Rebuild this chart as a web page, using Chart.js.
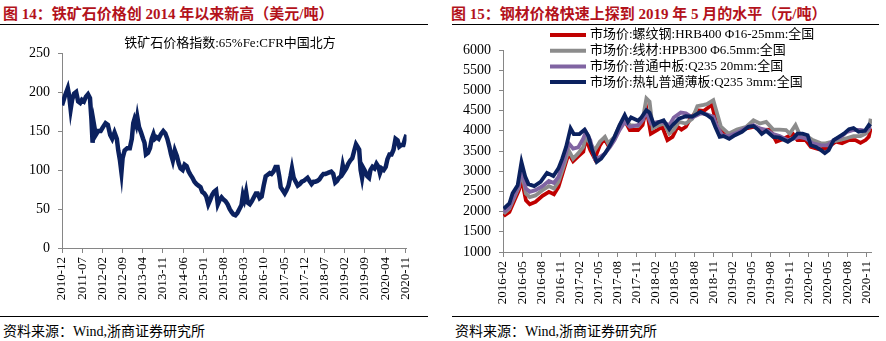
<!DOCTYPE html>
<html>
<head>
<meta charset="utf-8">
<script src="https://cdn.jsdelivr.net/npm/chart.js@4.4.1/dist/chart.umd.min.js"></script>
<style>
body { margin: 0; background: #fff; width: 886px; height: 341px; position: relative; overflow: hidden;
       font-family: 'Liberation Serif', 'Noto Sans CJK SC', serif; }
.title { position: absolute; top: 2px; color: #b3121b; font-weight: bold; font-size: 15px; white-space: nowrap; }
.rule { position: absolute; height: 0; border-top: 1.5px solid #000; }
.src { position: absolute; top: 320px; font-size: 14px; white-space: nowrap; }
canvas { position: absolute; }
</style>
</head>
<body>
<div class="title" style="left:3px">图&nbsp;14：铁矿石价格创 2014 年以来新高（美元/吨）</div>
<div class="title" style="left:451px">图&nbsp;15：钢材价格快速上探到 2019 年 5 月的水平（元/吨）</div>
<div class="rule" style="left:0;width:428px;top:24px"></div>
<div class="rule" style="left:452px;width:427px;top:24px"></div>
<canvas id="ore" width="425" height="284" style="left:0;top:26px"></canvas>
<canvas id="steel" width="443" height="284" style="left:443px;top:26px"></canvas>
<div class="rule" style="left:0;width:428px;top:316px"></div>
<div class="rule" style="left:452px;width:427px;top:316px"></div>
<div class="src" style="left:3px">资料来源：Wind,浙商证券研究所</div>
<div class="src" style="left:455px">资料来源：Wind,浙商证券研究所</div>
<script>
// iron ore index, months counted from 2010-12
var oreLabels = ['2010-12', '2011-07', '2012-02', '2012-09', '2013-04', '2013-11', '2014-06', '2015-01', '2015-08',
    '2016-03', '2016-10', '2017-05', '2017-12', '2018-07', '2019-02', '2019-09', '2020-04', '2020-11'];
var oreMonths = [0, 0.6, 1.1, 2.0, 2.5, 3.0, 3.5, 4.2, 4.9, 5.6, 6.3, 6.9, 7.6, 8.3, 9.0, 9.7, 10.2, 10.6, 11.1, 11.7,
    12.5, 13.4, 14.2, 15.1, 15.9, 16.7, 17.4, 18.2, 19.0, 19.5, 20.1, 20.6, 21.0, 21.7, 22.6, 23.5, 24.2, 24.7, 25.1, 25.7,
    26.1, 26.7, 27.4, 28.1, 28.6, 29.1, 29.8, 30.5, 31.1, 31.7, 32.2, 32.8, 33.5, 34.3, 35.1, 35.8, 36.5, 37.2, 37.8, 38.4,
    39.1, 39.8, 40.5, 41.1, 41.8, 42.5, 43.2, 43.9, 44.5, 45.2, 45.9, 46.6, 47.3, 48.0, 48.6, 49.3, 50.0, 50.7, 51.4, 52.0,
    52.7, 53.4, 54.0, 54.7, 55.3, 56.0, 56.7, 57.4, 58.1, 58.8, 59.4, 60.1, 60.8, 61.5, 62.2, 62.7, 63.2, 63.8, 64.4, 65.1,
    65.8, 66.5, 67.2, 67.8, 68.5, 69.2, 69.9, 70.6, 71.3, 72.0, 72.6, 73.3, 74.0, 74.7, 75.3, 75.8, 76.5, 77.2, 77.8, 78.5,
    79.2, 79.7, 80.3, 81.0, 81.7, 82.4, 83.1, 83.8, 84.4, 85.1, 85.8, 86.5, 87.2, 87.8, 88.5, 89.2, 89.9, 90.6, 91.3, 92.0,
    92.6, 93.3, 94.0, 94.7, 95.3, 96.0, 96.7, 97.3, 97.8, 98.5, 99.2, 99.9, 100.6, 101.3, 101.9, 102.4, 103.0, 103.5, 104.0, 104.5,
    105.1, 105.8, 106.4, 106.9, 107.6, 108.3, 109.0, 109.7, 110.2, 110.8, 111.5, 112.2, 112.8, 113.5, 114.2, 114.9, 115.6, 116.3, 116.9, 117.6,
    118.3, 118.9, 119.4];
var oreValues = [183, 190, 196, 205, 195, 178, 190, 198, 200, 188, 186, 190, 188, 194, 197, 192, 165, 135, 158, 145,
    150, 150, 155, 160, 158, 145, 140, 148, 140, 125, 112, 97, 115, 125, 128, 128, 140, 160, 165, 158,
    168, 155, 148, 140, 135, 120, 122, 128, 140, 146, 140, 142, 140, 146, 150, 147, 140, 130, 120, 112,
    125, 118, 108, 102, 100, 107, 105, 98, 94, 90, 85, 82, 80, 78, 72, 70, 66, 56, 62, 68,
    72, 74, 56, 62, 65, 62, 60, 56, 50, 46, 43, 42, 45, 50, 55, 68, 62, 72, 58, 56,
    60, 65, 70, 70, 64, 66, 80, 92, 94, 96, 95, 98, 104, 104, 92, 78, 74, 70, 74, 80,
    92, 102, 90, 85, 80, 82, 85, 86, 88, 90, 86, 82, 85, 85, 86, 88, 92, 95, 95, 96,
    97, 98, 95, 84, 86, 90, 92, 106, 98, 102, 108, 112, 115, 125, 133, 130, 126, 100, 90, 102,
    98, 92, 90, 100, 104, 102, 108, 104, 96, 102, 100, 104, 114, 120, 120, 126, 140, 138, 130, 132,
    132, 140, 145];

// steel prices, months counted from 2016-02
var steelLabels = ['2016-02', '2016-05', '2016-08', '2016-11', '2017-02', '2017-05', '2017-08', '2017-11', '2018-02', '2018-05',
    '2018-08', '2018-11', '2019-02', '2019-05', '2019-08', '2019-11', '2020-02', '2020-05', '2020-08', '2020-11'];
var rebarMonths = [0.1, 1.0, 1.8, 2.5, 2.9, 3.6, 4.2, 5.1, 6.2, 7.2, 8.0, 8.7, 9.5, 10.3, 11.0, 11.8, 12.6, 13.0, 13.7, 14.4,
    15.2, 15.9, 16.5, 17.5, 18.3, 19.1, 19.9, 21.2, 21.9, 22.5, 23.2, 24.3, 25.0, 25.8, 26.6, 27.4, 28.0, 28.7, 29.4, 30.5,
    31.5, 32.3, 32.8, 33.6, 34.4, 35.4, 36.7, 38.2, 39.5, 40.6, 41.9, 42.9, 43.9, 45.5, 46.2, 47.5, 48.3, 49.6, 50.5, 51.4,
    52.2, 53.2, 54.3, 55.3, 56.1, 56.9, 57.4, 57.7];
var rebarPrices = [1890, 1990, 2280, 2530, 2820, 2280, 2180, 2240, 2390, 2490, 2430, 2610, 3025, 3440, 3250, 3370, 3480, 3810, 3520, 3310,
    3640, 3810, 3640, 3810, 4100, 4260, 4020, 4020, 4140, 4550, 3930, 4030, 4100, 3770, 3850, 4100, 4030, 4100, 4300, 4510,
    4490, 4590, 4640, 4100, 3975, 3850, 3950, 4060, 4100, 4020, 4030, 3730, 3790, 3920, 3770, 3770, 3600, 3540, 3560, 3640,
    3730, 3690, 3770, 3770, 3700, 3770, 3850, 4060];
var wireMonths = [0.1, 1.0, 1.8, 2.5, 2.9, 3.6, 4.2, 5.1, 6.2, 7.2, 8.0, 8.7, 9.5, 10.3, 11.0, 11.8, 12.6, 13.0, 13.7, 14.4,
    15.2, 16.0, 16.5, 17.5, 18.3, 19.1, 19.9, 21.2, 21.9, 22.5, 23.0, 23.5, 24.5, 25.3, 26.1, 26.8, 27.6, 28.7, 29.7, 30.5,
    31.5, 32.0, 33.0, 33.6, 34.2, 35.4, 36.7, 38.2, 39.3, 40.3, 41.3, 42.4, 43.4, 44.4, 45.0, 45.9, 46.5, 47.5, 48.6, 49.9,
    50.6, 51.7, 52.7, 53.8, 55.0, 56.1, 56.9, 57.4, 57.7];
var wirePrices = [1950, 2075, 2360, 2610, 3025, 2450, 2360, 2400, 2530, 2630, 2570, 2735, 3110, 3520, 3310, 3440, 3600, 3850, 3690, 3520,
    3730, 3850, 3690, 3850, 4140, 4330, 4140, 4120, 4260, 4800, 4720, 4060, 4140, 4180, 3930, 4030, 4220, 4180, 4300, 4610,
    4640, 4660, 4760, 4430, 4100, 3930, 4030, 4100, 4260, 4180, 4220, 4030, 4030, 4020, 3930, 4140, 3930, 3890, 3770, 3690,
    3690, 3730, 3770, 3810, 3870, 3870, 3930, 4020, 4300];
var plateMonths = [0.1, 1.0, 1.8, 2.5, 2.9, 3.6, 4.2, 5.1, 6.2, 7.2, 8.0, 8.7, 9.5, 10.3, 11.0, 11.8, 12.6, 13.0, 13.7, 14.4,
    15.2, 16.0, 16.8, 17.5, 18.3, 19.1, 19.9, 21.2, 21.9, 22.5, 23.2, 24.3, 25.0, 26.1, 26.8, 27.9, 28.7, 29.7, 31.0, 32.0,
    33.0, 33.6, 34.4, 35.4, 36.7, 38.2, 39.3, 40.3, 41.3, 42.4, 43.4, 44.7, 45.7, 46.5, 47.5, 48.6, 49.9, 50.9, 51.9, 53.0,
    54.0, 55.0, 56.1, 56.9, 57.7];
var platePrices = [1990, 2110, 2400, 2650, 3110, 2570, 2490, 2530, 2630, 2760, 2710, 2860, 3230, 3690, 3560, 3590, 3810, 3975, 3770, 3310,
    3350, 3440, 3600, 3770, 4020, 4220, 4100, 4140, 4260, 4470, 4180, 4220, 4220, 4140, 4330, 4450, 4430, 4330, 4430, 4410,
    4350, 4100, 3890, 3870, 3950, 4080, 4140, 4060, 4020, 3920, 3870, 3770, 3810, 3850, 3810, 3690, 3640, 3640, 3770, 3850,
    3975, 4020, 4020, 4000, 4100];
var hotMonths = [0.1, 1.0, 1.5, 2.3, 2.9, 3.5, 4.0, 4.9, 5.9, 6.9, 7.9, 8.7, 9.3, 9.9, 10.6, 11.1, 12.0, 12.8, 13.4, 14.0,
    14.7, 15.4, 16.0, 16.8, 17.5, 18.3, 19.1, 19.6, 20.1, 21.2, 21.7, 22.5, 23.0, 23.7, 24.5, 25.2, 26.1, 26.6, 27.6, 28.7,
    29.7, 31.0, 32.0, 32.8, 33.3, 34.0, 34.6, 35.5, 36.4, 37.5, 38.5, 39.3, 40.0, 40.6, 41.3, 42.4, 43.4, 44.7, 45.5, 46.2,
    47.0, 47.8, 48.3, 49.1, 49.9, 50.5, 51.1, 51.9, 52.7, 53.5, 54.3, 55.0, 55.8, 56.8, 57.4, 57.7];
var hotPrices = [2070, 2200, 2450, 2650, 3230, 2860, 2680, 2630, 2735, 2960, 2880, 3070, 3310, 3600, 4060, 3920, 3920, 4030, 3870, 3520,
    3230, 3310, 3440, 3640, 3850, 4140, 4390, 4220, 4330, 4250, 4330, 4510, 4450, 4140, 4220, 4260, 4040, 4140, 4300, 4360,
    4350, 4470, 4390, 4300, 4100, 3850, 3870, 3800, 3890, 3975, 4100, 4120, 4030, 3920, 4000, 3850, 3830, 3730, 3810, 3930,
    3930, 3890, 3640, 3600, 3520, 3450, 3520, 3770, 3850, 3930, 4040, 4070, 3975, 4000, 4140, 4100];

function pairs(xs, ys) {
    return xs.map(function (x, i) { return { x: x, y: ys[i] }; });
}

var fontFamily = "'Liberation Serif', 'Noto Sans CJK SC', serif";
var axisGray = '#868686';

var lineLegend = {
    id: 'lineLegend',
    afterDraw: function (chart, args, opts) {
        var ctx = chart.ctx;
        ctx.save();
        ctx.font = '13px ' + fontFamily;
        ctx.textBaseline = 'middle';
        ctx.textAlign = opts.align || 'left';
        chart.data.datasets.forEach(function (ds, i) {
            var y = opts.top + i * opts.gap;
            var x = opts.left;
            if (opts.swatch) {
                ctx.strokeStyle = ds.borderColor;
                ctx.lineWidth = 4;
                ctx.beginPath();
                ctx.moveTo(x, y);
                ctx.lineTo(x + opts.swatch, y);
                ctx.stroke();
                x += opts.swatch + 4;
            }
            ctx.fillStyle = '#000';
            ctx.fillText(ds.label, x, y);
        });
        ctx.restore();
    }
};

function xAxis(max, step, labels, height) {
    return {
        type: 'linear', min: 0, max: max,
        afterFit: function (s) { s.height = height; },
        afterBuildTicks: function (s) {
            s.ticks = labels.map(function (l, i) { return { value: i * step }; });
        },
        grid: { drawOnChartArea: false, color: axisGray, tickLength: 5 },
        border: { color: axisGray },
        ticks: {
            maxRotation: 90, minRotation: 90, autoSkip: false, padding: 4,
            color: '#000', font: { family: fontFamily, size: 13 },
            callback: function (v) { return labels[Math.round(v / step)]; }
        }
    };
}

function yAxis(min, max, step, width) {
    return {
        min: min, max: max,
        afterFit: function (s) { s.width = width; },
        grid: { drawOnChartArea: false, color: axisGray, tickLength: 4 },
        border: { color: axisGray },
        ticks: { stepSize: step, padding: 8, color: '#000', font: { family: fontFamily, size: 14 },
            callback: function (v) { return String(v); } }
    };
}

new Chart(document.getElementById('ore'), {
    type: 'line',
    data: {
        datasets: [{
            label: '铁矿石价格指数:65%Fe:CFR中国北方',
            data: pairs(oreMonths, oreValues),
            borderColor: '#0b215f', borderWidth: 4.5, pointRadius: 0, tension: 0
        }]
    },
    options: {
        responsive: false, animation: false,
        layout: { padding: { top: 27, right: 13, left: 0, bottom: 0 } },
        plugins: { legend: { display: false }, tooltip: { enabled: false },
            lineLegend: { left: 230, top: 18, gap: 0, align: 'center' } },
        scales: { x: xAxis(119.4, 7, oreLabels, 62), y: yAxis(0, 250, 50, 62) }
    },
    plugins: [lineLegend]
});

new Chart(document.getElementById('steel'), {
    type: 'line',
    data: {
        datasets: [
            { label: '市场价:螺纹钢:HRB400 Φ16-25mm:全国', data: pairs(rebarMonths, rebarPrices), borderColor: '#c00000', order: 4 },
            { label: '市场价:线材:HPB300 Φ6.5mm:全国', data: pairs(wireMonths, wirePrices), borderColor: '#8c8c8c', order: 3 },
            { label: '市场价:普通中板:Q235 20mm:全国', data: pairs(plateMonths, platePrices), borderColor: '#8064a2', order: 2 },
            { label: '市场价:热轧普通薄板:Q235 3mm:全国', data: pairs(hotMonths, hotPrices), borderColor: '#0b215f', order: 1 }
        ]
    },
    options: {
        responsive: false, animation: false,
        datasets: { line: { borderWidth: 3.8, pointRadius: 0, tension: 0 } },
        layout: { padding: { top: 24, right: 10, left: 0, bottom: 0 } },
        plugins: { legend: { display: false }, tooltip: { enabled: false },
            lineLegend: { left: 107, top: 9, gap: 15.7, swatch: 36 } },
        scales: { x: xAxis(57.9, 3, steelLabels, 58), y: yAxis(1000, 6000, 500, 60) }
    },
    plugins: [lineLegend]
});
</script>
</body>
</html>
